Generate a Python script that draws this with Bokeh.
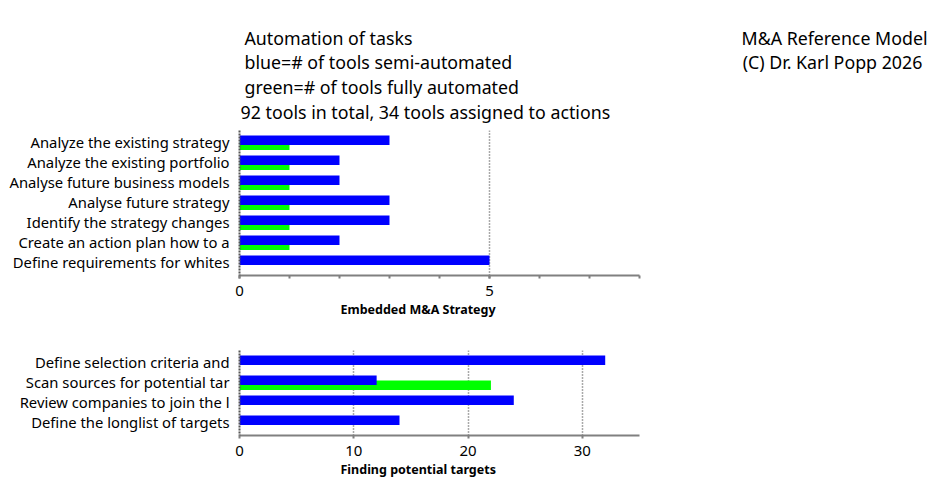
from bokeh.plotting import figure
from bokeh.models import Range1d, FixedTicker, SingleIntervalTicker, Title
from bokeh.core.properties import value
from bokeh.embed import file_html
from bokeh.resources import INLINE

# ---------------- data ----------------
title_lines = [
    "Automation of tasks",
    "blue=# of tools semi-automated",
    "green=# of tools fully automated",
    "92 tools in total, 34 tools assigned to actions",
]
credit_lines = ["M&A Reference Model", "(C) Dr. Karl Popp 2026"]

strategy_tasks = [
    "Analyze the existing strategy",
    "Analyze the existing portfolio",
    "Analyse future business models",
    "Analyse future strategy",
    "Identify the strategy changes",
    "Create an action plan how to a",
    "Define requirements for whites",
]
strategy_semi = [3, 2, 2, 3, 3, 2, 5]
strategy_full = [1, 1, 1, 1, 1, 1, 0]
strategy_title = "Embedded M&A Strategy"

targets_tasks = [
    "Define selection criteria and",
    "Scan sources for potential tar",
    "Review companies to join the l",
    "Define the longlist of targets",
]
targets_semi = [32, 12, 24, 14]
targets_full = [0, 22, 0, 0]
targets_title = "Finding potential targets"

FONT = "Noto Sans"
BLUE = "#0000FF"
GREEN = "#00FF00"
AXIS_GRAY = "#808080"
W = 940
HEADER_H = 126

# ---------------- header (text only) ----------------
hdr = figure(width=W, height=HEADER_H, output_backend="svg", toolbar_location=None,
             x_range=Range1d(0, W), y_range=Range1d(HEADER_H, 0),
             x_axis_type=None, y_axis_type=None,
             min_border_left=0, min_border_right=0, min_border_top=0, min_border_bottom=0)
hdr.outline_line_color = None
hdr.text(x=[244, 244, 244, 240], y=[37, 61, 86, 111], text=title_lines,
         text_font=value(FONT), text_font_size=value("17.8px"),
         text_baseline="middle", text_align="left", text_color="black")
hdr.text(x=[834, 832], y=[37, 61], text=credit_lines,
         text_font=value(FONT), text_font_size=value("17.8px"),
         text_baseline="middle", text_align="center", text_color="black")


def make_chart(tasks, semi, full, xmax, major, minor_n, top, frame_h, bottom, label_text):
    n = len(tasks)
    idx = list(range(n))
    p = figure(width=W, height=top + frame_h + bottom, output_backend="svg",
               toolbar_location=None,
               x_range=Range1d(0, xmax), y_range=Range1d(n - 1 + 0.66, -0.59),
               min_border_left=239, min_border_right=W - 639,
               min_border_top=top, min_border_bottom=bottom)
    p.outline_line_color = None

    p.hbar(y=[i + 0.15 for i in idx], right=full, left=0, height=0.48,
           fill_color=GREEN, line_color=None)
    p.hbar(y=[i - 0.1 for i in idx], right=semi, left=0, height=0.48,
           fill_color=BLUE, line_color=None)

    xa = p.xaxis[0]
    xa.ticker = SingleIntervalTicker(interval=major, num_minor_ticks=minor_n)
    xa.axis_line_color = AXIS_GRAY
    xa.axis_line_width = 2
    xa.major_tick_line_color = AXIS_GRAY
    xa.minor_tick_line_color = AXIS_GRAY if minor_n > 0 else None
    xa.major_tick_line_width = 2
    xa.minor_tick_line_width = 2
    xa.major_tick_out = 3
    xa.major_tick_in = 0
    xa.minor_tick_out = 3
    xa.minor_tick_in = 0
    xa.major_label_text_font = FONT
    xa.major_label_text_font_size = "15px"
    xa.major_label_text_color = "black"
    xa.major_label_standoff = 7

    ya = p.yaxis[0]
    ya.ticker = FixedTicker(ticks=idx)
    ya.major_label_overrides = {i: t for i, t in zip(idx, tasks)}
    ya.axis_line_color = "#555555"
    ya.axis_line_width = 2
    ya.axis_line_dash = "2 1"
    ya.major_tick_line_color = None
    ya.minor_tick_line_color = None
    ya.major_label_text_font = FONT
    ya.major_label_text_font_size = "14.8px"
    ya.major_label_text_color = "black"
    ya.major_label_standoff = 4

    p.ygrid.grid_line_color = None
    p.xgrid.grid_line_color = "#555555"
    p.xgrid.grid_line_dash = "1 2"
    p.xgrid.grid_line_width = 1.5

    p.add_layout(Title(text=label_text, align="left", offset=101, text_font=FONT,
                       text_font_style="bold", text_font_size="12.5px",
                       text_color="black", standoff=0), "below")
    return p


p1 = make_chart(strategy_tasks, strategy_semi, strategy_full, 8, 5, 5,
                4, 145, 47, strategy_title)
p2 = make_chart(targets_tasks, targets_semi, targets_full, 35, 10, 0,
                28, 85, 45, targets_title)

open("out.html", "w").write(file_html([hdr, p1, p2], INLINE))
